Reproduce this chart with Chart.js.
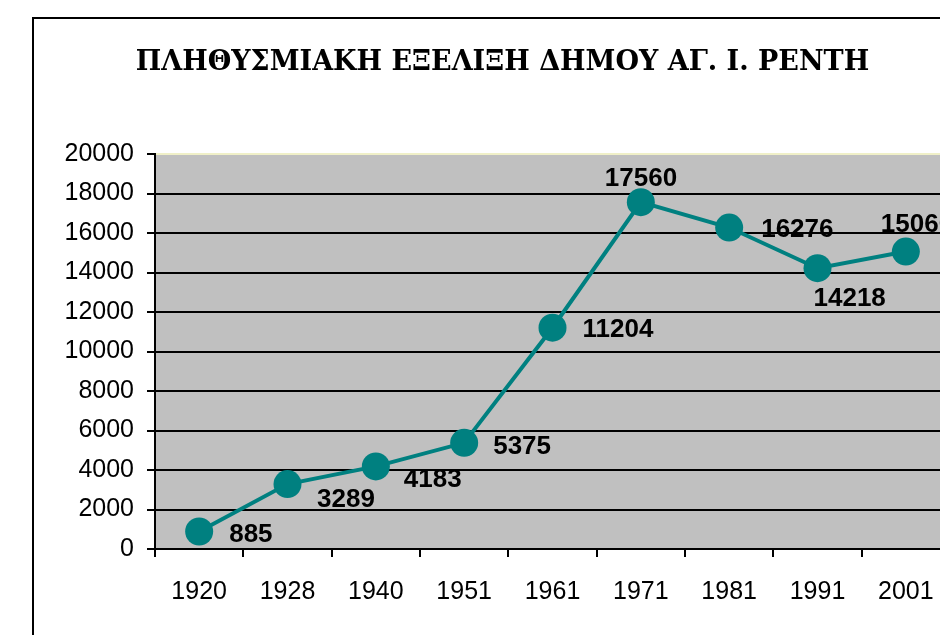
<!DOCTYPE html>
<html>
<head>
<meta charset="utf-8">
<script src="https://cdn.jsdelivr.net/npm/chart.js@4/dist/chart.umd.min.js"></script>
<style>
  html, body { margin: 0; padding: 0; background: #ffffff; overflow: hidden; width: 940px; height: 635px; }
  #wrap { position: absolute; left: 0; top: 0; width: 1005px; height: 635px; }
  #frame { position: absolute; left: 32px; top: 17px; width: 1100px; height: 700px; border-left: 2px solid #000; border-top: 2px solid #000; pointer-events: none; }
  canvas { position: absolute; left: 0; top: 0; }
</style>
</head>
<body>
<div id="wrap">
  <canvas id="c" width="1005" height="635"></canvas>
  <div id="frame"></div>
</div>
<script>
const chartTitle = 'ΠΛΗΘΥΣΜΙΑΚΗ ΕΞΕΛΙΞΗ ΔΗΜΟΥ ΑΓ. Ι. ΡΕΝΤΗ';
const years = ['1920', '1928', '1940', '1951', '1961', '1971', '1981', '1991', '2001'];
const population = [885, 3289, 4183, 5375, 11204, 17560, 16276, 14218, 15060];
const yMin = 0;
const yMax = 20000;
const yStep = 2000;

const plotBackground = {
  id: 'plotBackground',
  beforeDraw(chart) {
    const { ctx, chartArea: a } = chart;
    ctx.save();
    ctx.fillStyle = '#c0c0c0';
    ctx.fillRect(a.left, a.top, a.right - a.left, a.bottom - a.top);
    ctx.restore();
  }
};

const pointLabels = {
  id: 'pointLabels',
  afterDatasetsDraw(chart, args, opts) {
    const { ctx } = chart;
    const meta = chart.getDatasetMeta(0);
    const values = chart.data.datasets[0].data;
    ctx.save();
    ctx.font = opts.font;
    ctx.fillStyle = opts.color;
    ctx.textAlign = 'left';
    ctx.textBaseline = 'middle';
    meta.data.forEach((pt, i) => {
      const off = opts.offsets[i] || [28, 0];
      ctx.fillText(String(values[i]), pt.x + off[0], pt.y + off[1]);
    });
    ctx.restore();
  }
};

new Chart(document.getElementById('c'), {
  type: 'line',
  data: {
    labels: years,
    datasets: [{
      data: population,
      borderColor: '#008080',
      borderWidth: 4,
      pointRadius: 14,
      pointHoverRadius: 14,
      pointBackgroundColor: '#008080',
      pointBorderWidth: 0,
      tension: 0,
      clip: false
    }]
  },
  options: {
    responsive: false,
    animation: false,
    events: [],
    layout: { padding: { left: 55, right: 55, top: 0, bottom: 0 } },
    plugins: {
      legend: { display: false },
      tooltip: { enabled: false },
      title: {
        display: true,
        text: chartTitle,
        color: '#000',
        font: { family: '"DejaVu Serif", serif', size: 27, weight: 'bold', lineHeight: 1.2 },
        padding: { top: 46.8, bottom: 74.8 }
      },
      pointLabels: {
        font: 'bold 26px "Liberation Sans", Arial, sans-serif',
        color: '#000',
        offsets: [[30, 3], [29.5, 16], [28, 13], [29, 4], [30, 2], [-36, -23], [32, 2], [-4, 31], [-25, -27]]
      }
    },
    scales: {
      x: {
        type: 'category',
        offset: true,
        afterFit(scale) { scale.height = 86; },
        grid: {
          offset: true,
          drawOnChartArea: false,
          drawTicks: true,
          tickLength: 8,
          tickColor: '#000',
          lineWidth: 2,
          color: '#000'
        },
        border: { display: true, color: '#000', width: 2 },
        ticks: {
          color: '#000',
          padding: 20,
          maxRotation: 0,
          autoSkip: false,
          font: { family: '"Liberation Sans", Arial, sans-serif', size: 25 }
        }
      },
      y: {
        min: yMin,
        max: yMax,
        afterFit(scale) { scale.width = 100; },
        grid: {
          drawTicks: true,
          tickLength: 8,
          tickColor: '#000',
          lineWidth: 2,
          color: (c) => (c.tick && c.tick.value === yMax) ? '#f0f0c8' : '#000'
        },
        border: { display: true, color: '#000', width: 2 },
        ticks: {
          stepSize: yStep,
          color: '#000',
          padding: 13,
          callback: (v) => String(v),
          font: { family: '"Liberation Sans", Arial, sans-serif', size: 25 }
        }
      }
    }
  },
  plugins: [plotBackground, pointLabels]
});
</script>
</body>
</html>
